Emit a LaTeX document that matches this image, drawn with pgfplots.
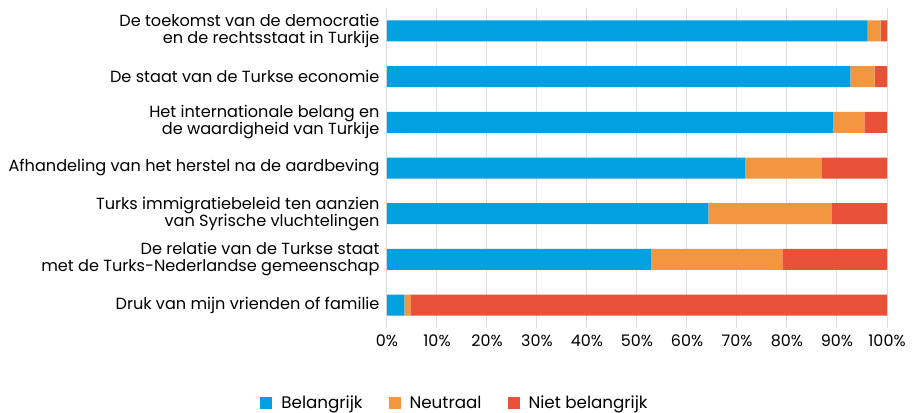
\documentclass[border=0pt]{standalone}
\usepackage{pgfplots}
\pgfplotsset{compat=1.18}
\usepackage{fontspec}
\setmainfont{Poppins}
\definecolor{cblue}{HTML}{00A0E1}
\definecolor{corange}{HTML}{F39640}
\definecolor{cred}{HTML}{E85038}
\definecolor{cgrid}{HTML}{DEDEDE}
\begin{document}
\begin{tikzpicture}
\useasboundingbox (-387bp,-85bp) rectangle (525bp,328bp);
\begin{axis}[
  at={(0,0)}, anchor=south west,
  scale only axis, width=500bp, height=320bp,
  xbar stacked, bar width=21bp,
  xmin=0, xmax=100, ymin=-0.5, ymax=6.5, y dir=reverse,
  xtick={0,10,...,100},
  xticklabel={\pgfmathprintnumber{\tick}\%},
  /pgf/number format/assume math mode=true,
  ytick={0,...,6},
  yticklabels={{De toekomst van de democratie\\en de rechtsstaat in Turkije},
    {De staat van de Turkse economie},
    {Het internationale belang en\\de waardigheid van Turkije},
    {Afhandeling van het herstel na de aardbeving},
    {Turks immigratiebeleid ten aanzien\\van Syrische vluchtelingen},
    {De relatie van de Turkse staat\\met de Turks-Nederlandse gemeenschap},
    {Druk van mijn vrienden of familie}},
  yticklabel style={align=right, font=\fontsize{16.2}{17}\selectfont, xshift=-4bp},
  xticklabel style={font=\fontsize{16}{17}\selectfont, yshift=-3bp},
  axis line style={draw=none},
  major tick style={draw=none},
  xmajorgrids, grid style={draw=cgrid, line width=1bp},
  legend style={at={(0.136,-0.234)}, anchor=center, draw=none, legend columns=3,
    font=\fontsize{16.8}{17}\selectfont,
    /tikz/every odd column/.append style={column sep=7bp},
    /tikz/every even column/.append style={column sep=24bp}},
  legend image code/.code={\fill[#1] (0bp,-6bp) rectangle (12bp,6bp);},
]
\addplot[fill=cblue, draw=none] coordinates {(96.1,0) (92.7,1) (89.3,2) (71.7,3) (64.3,4) (52.9,5) (3.5,6)};
\addplot[fill=corange, draw=none] coordinates {(2.6,0) (4.8,1) (6.2,2) (15.2,3) (24.6,4) (26.2,5) (1.2,6)};
\addplot[fill=cred, draw=none] coordinates {(1.3,0) (2.5,1) (4.5,2) (13.1,3) (11.1,4) (20.9,5) (95.3,6)};
\legend{Belangrijk, Neutraal, Niet belangrijk}
\end{axis}
\end{tikzpicture}
\end{document}
